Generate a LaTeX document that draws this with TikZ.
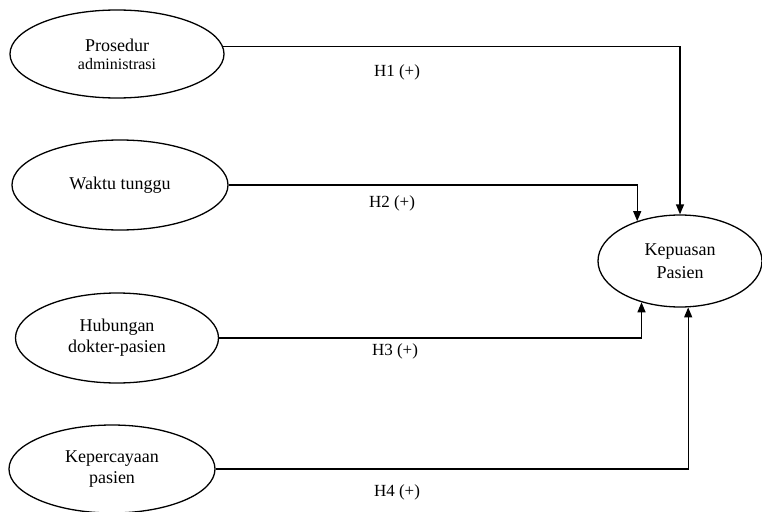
\documentclass[tikz,border=0pt]{standalone}
\usepackage{fontspec}
\setmainfont{Liberation Serif}
\usetikzlibrary{shapes.geometric,arrows.meta}
\begin{document}
\begin{tikzpicture}[x=1pt,y=-1pt,
  var/.style={draw,ellipse,line width=1.3pt,inner sep=0pt,align=center,font=\fontsize{18}{21}\selectfont},
  conn/.style={line width=1.3pt,-{Triangle[length=10pt,width=8pt]}},
  hlab/.style={font=\fontsize{17}{20}\selectfont}]
\useasboundingbox (0,0) rectangle (762,511);
\begin{scope}
\clip (0,0) rectangle (762,511);
\node[var,minimum width=214pt,minimum height=88pt] (p1) at (117,54) {Prosedur\\[-3pt]{\fontsize{16}{18}\selectfont administrasi}};
\node[var,minimum width=216pt,minimum height=90pt] (p2) at (120,185) {Waktu tunggu};
\node[var,minimum width=203pt,minimum height=90pt] (p3) at (117,338) {Hubungan\\dokter-pasien};
\node[var,minimum width=206pt,minimum height=88pt] (p4) at (112,469) {Kepercayaan\\pasien};
\node[var,minimum width=164pt,minimum height=92pt] (k) at (680,261) {Kepuasan\\[2pt]Pasien};
\end{scope}
\draw[conn] (p1.4) -| (k.north);
\draw[conn] (p2.east) -| (k.137);
\draw[conn] (p3.east) -| (k.227);
\draw[conn] (p4.east) -| (k.280);
\node[hlab] (h1) at (397,72) {H1 (+)};
\node[hlab] (h2) at (392,203) {H2 (+)};
\node[hlab] (h3) at (395,351) {H3 (+)};
\node[hlab] (h4) at (397,492) {H4 (+)};
\end{tikzpicture}
\end{document}
